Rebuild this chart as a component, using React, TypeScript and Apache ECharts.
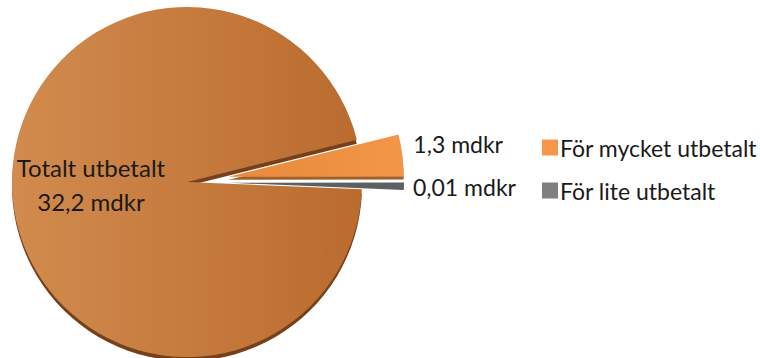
import React, { useEffect, useRef } from "react";
import * as echarts from "echarts";

const sliceNames = ["För mycket utbetalt", "För lite utbetalt", "Totalt utbetalt"];
const sliceValues = [1.3, 0.01, 32.2];
const sliceLabels = ["1,3 mdkr", "0,01 mdkr", "Totalt utbetalt\n32,2 mdkr"];
const legendNames = ["För mycket utbetalt", "För lite utbetalt"];

const FONT = "Lato";

export default function App() {
  const ref = useRef<HTMLDivElement>(null);
  useEffect(() => {
    if (!ref.current) return;
    const chart = echarts.init(ref.current, undefined, { renderer: "svg" });
    const colors = [
      new echarts.graphic.LinearGradient(0, 0, 1, 0, [
        { offset: 0, color: "#E8893C" },
        { offset: 1, color: "#F39646" },
      ]),
      "#5E5F61",
      new echarts.graphic.LinearGradient(0, 0, 1, 0, [
        { offset: 0, color: "#D28B4E" },
        { offset: 1, color: "#BA6B2E" },
      ]),
    ];
    const noBorder = { borderWidth: 0, borderColor: "rgba(0,0,0,0)" };
    const shadows = [
      { shadowColor: "rgba(150,80,20,0.9)", shadowOffsetY: 3, shadowBlur: 0 },
      {},
      { shadowColor: "rgba(110,55,15,0.95)", shadowOffsetY: 4, shadowBlur: 1 },
    ];
    chart.setOption({
      animation: false,
      legend: {
        orient: "vertical",
        left: 537,
        top: 131,
        itemWidth: 16,
        itemHeight: 16,
        itemGap: 20,
        icon: "rect",
        selectedMode: false,
        textStyle: { fontFamily: FONT, fontSize: 23, color: "#1a1a1a", padding: [0, 0, 0, -3] },
        data: [
          { name: legendNames[0], itemStyle: { color: "#F79646" } },
          { name: legendNames[1], itemStyle: { color: "#7F7F7F" } },
        ],
      },
      series: [
        {
          type: "pie",
          center: [187, 182],
          radius: 175,
          startAngle: 14,
          clockwise: true,
          minAngle: 2.5,
          selectedMode: "multiple",
          selectedOffset: 42,
          avoidLabelOverlap: false,
          itemStyle: noBorder,
          select: { itemStyle: noBorder },
          labelLine: { show: false, length: 0, length2: 0 },
          label: {
            show: true,
            position: "outside",
            alignTo: "none",
            fontFamily: FONT,
            fontSize: 23,
            color: "#1a1a1a",
          },
          labelLayout: (p: any) => {
            if (p.dataIndex === 0) return { dx: 6, dy: -11 };
            if (p.dataIndex === 1) return { dx: 4, dy: 1 };
            return { dx: -6, dy: -7 };
          },
          emphasis: { disabled: true },
          data: sliceValues.map((v, i) => ({
            name: sliceNames[i],
            value: v,
            selected: i < 2,
            itemStyle: { color: colors[i], ...noBorder, ...shadows[i] },
            select: { itemStyle: { color: colors[i], ...noBorder, ...shadows[i] } },
            label:
              i === 2
                ? { position: "inside", formatter: sliceLabels[i], fontSize: 24, lineHeight: 34, align: "center", color: "#1a1a1a" }
                : { formatter: sliceLabels[i] },
          })),
        },
      ],
    });
    return () => chart.dispose();
  }, []);
  return (
    <div
      ref={ref}
      style={{ position: "absolute", left: 0, top: 0, width: 760, height: 358 }}
    />
  );
}
